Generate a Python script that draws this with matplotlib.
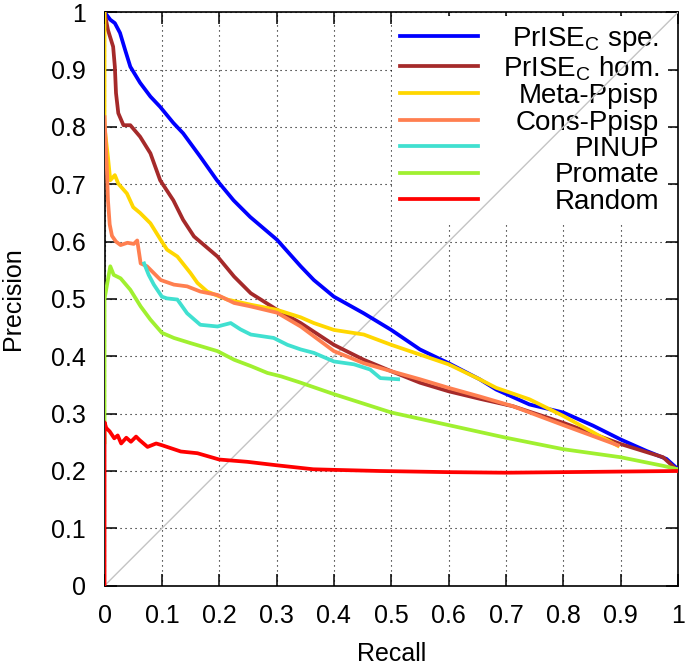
import matplotlib
matplotlib.use("Agg")
import matplotlib.pyplot as plt

plt.rcParams["font.family"] = ["Liberation Sans", "DejaVu Sans"]
plt.rcParams["mathtext.fontset"] = "custom"
plt.rcParams["mathtext.rm"] = "Liberation Sans"
plt.rcParams["mathtext.it"] = "Liberation Sans:italic"

# precision / recall curves
spe_x = [0, 0.004, 0.01, 0.018, 0.027, 0.036, 0.045, 0.062, 0.08, 0.097, 0.12, 0.137,
         0.167, 0.196, 0.225, 0.254, 0.301, 0.342, 0.365, 0.4, 0.452, 0.5, 0.55, 0.6,
         0.654, 0.683, 0.741, 0.8, 0.852, 0.9, 0.945, 0.98, 1.0]
spe_y = [1.0, 0.995, 0.987, 0.981, 0.964, 0.934, 0.905, 0.877, 0.853, 0.835, 0.807, 0.789,
         0.748, 0.707, 0.672, 0.643, 0.603, 0.557, 0.533, 0.504, 0.475, 0.446, 0.412, 0.388,
         0.36, 0.342, 0.316, 0.302, 0.279, 0.255, 0.235, 0.221, 0.203]

hom_x = [0, 0.006, 0.015, 0.018, 0.02, 0.024, 0.033, 0.045, 0.062, 0.08, 0.097, 0.12,
         0.137, 0.156, 0.197, 0.226, 0.255, 0.301, 0.342, 0.4, 0.452, 0.5, 0.55, 0.6,
         0.654, 0.712, 0.8, 0.9, 0.974, 1.0]
hom_y = [1.0, 0.969, 0.94, 0.905, 0.859, 0.824, 0.803, 0.803, 0.783, 0.754, 0.707, 0.672,
         0.638, 0.609, 0.574, 0.539, 0.51, 0.481, 0.458, 0.42, 0.394, 0.374, 0.354, 0.339,
         0.326, 0.313, 0.284, 0.247, 0.224, 0.2]

meta_x = [0, 0, 0.006, 0.01, 0.018, 0.024, 0.039, 0.05, 0.062, 0.08, 0.098, 0.109, 0.127,
          0.15, 0.162, 0.179, 0.214, 0.255, 0.301, 0.342, 0.365, 0.4, 0.452, 0.5, 0.55,
          0.6, 0.654, 0.683, 0.741, 0.8, 0.858, 0.895]
meta_y = [1.0, 0.8, 0.747, 0.707, 0.716, 0.701, 0.684, 0.66, 0.65, 0.632, 0.603, 0.586, 0.574,
          0.545, 0.528, 0.513, 0.499, 0.49, 0.481, 0.468, 0.458, 0.446, 0.438, 0.42, 0.403,
          0.386, 0.36, 0.345, 0.325, 0.296, 0.264, 0.244]

cons_x = [0, 0.004, 0.006, 0.009, 0.013, 0.02, 0.028, 0.04, 0.051, 0.057, 0.063, 0.074,
          0.098, 0.121, 0.144, 0.167, 0.197, 0.226, 0.255, 0.301, 0.342, 0.4, 0.452, 0.5,
          0.55, 0.6, 0.654, 0.712, 0.8, 0.895]
cons_y = [0.817, 0.73, 0.672, 0.63, 0.61, 0.6, 0.594, 0.598, 0.596, 0.602, 0.562, 0.557,
          0.533, 0.525, 0.522, 0.513, 0.507, 0.493, 0.487, 0.476, 0.452, 0.409, 0.388, 0.374,
          0.36, 0.345, 0.33, 0.313, 0.28, 0.245]

pinup_x = [0.069, 0.077, 0.086, 0.1, 0.109, 0.127, 0.144, 0.167, 0.197, 0.22, 0.237, 0.255,
           0.295, 0.319, 0.342, 0.365, 0.4, 0.435, 0.463, 0.481, 0.512]
pinup_y = [0.562, 0.542, 0.525, 0.504, 0.501, 0.499, 0.475, 0.455, 0.452, 0.458, 0.447, 0.438,
           0.432, 0.42, 0.412, 0.406, 0.391, 0.386, 0.377, 0.362, 0.36]

promate_x = [0, 0, 0.01, 0.016, 0.028, 0.045, 0.063, 0.08, 0.1, 0.121, 0.15, 0.197, 0.226,
             0.255, 0.284, 0.308, 0.342, 0.4, 0.5, 0.6, 0.7, 0.8, 0.9, 0.974, 1.0]
promate_y = [0.25, 0.5, 0.557, 0.542, 0.536, 0.516, 0.487, 0.464, 0.441, 0.432, 0.423, 0.409, 0.394,
             0.383, 0.371, 0.365, 0.354, 0.334, 0.302, 0.28, 0.258, 0.238, 0.224, 0.209, 0.203]

random_x = [0, 0, 0.003, 0.009, 0.017, 0.023, 0.029, 0.038, 0.046, 0.055, 0.061, 0.075, 0.09,
            0.1, 0.133, 0.162, 0.2, 0.249, 0.3, 0.364, 0.4, 0.48, 0.6, 0.7, 0.8, 0.9, 1.0]
random_y = [0, 0.285, 0.275, 0.269, 0.257, 0.262, 0.248, 0.258, 0.251, 0.26, 0.254, 0.242, 0.248,
            0.245, 0.234, 0.231, 0.22, 0.216, 0.21, 0.203, 0.202, 0.2, 0.198, 0.197, 0.198, 0.199, 0.2]

labels = [r"PrISE$_\mathrm{C}$ spe.", r"PrISE$_\mathrm{C}$ hom.", "Meta-Ppisp", "Cons-Ppisp",
          "PINUP", "Promate", "Random"]
colors = ["#0000ff", "#a52a2a", "#ffd700", "#ff7f50", "#40e0d0", "#a0f030", "#ff0000"]
series = [(spe_x, spe_y), (hom_x, hom_y), (meta_x, meta_y), (cons_x, cons_y),
          (pinup_x, pinup_y), (promate_x, promate_y), (random_x, random_y)]
ticks = [0, 0.1, 0.2, 0.3, 0.4, 0.5, 0.6, 0.7, 0.8, 0.9, 1]
tick_labels = ["0", "0.1", "0.2", "0.3", "0.4", "0.5", "0.6", "0.7", "0.8", "0.9", "1"]

fig = plt.figure(figsize=(6.85, 6.66), dpi=100)
ax = fig.add_axes([0.1526, 0.1206, 0.8372, 0.861])

ax.plot([0, 1], [0, 1], color="#c4c4c4", lw=1.0, zorder=6)
for (xs, ys), lab, col in zip(series, labels, colors):
    ax.plot(xs, ys, color=col, lw=2.7, label=lab, zorder=7)

ax.set_xlim(0, 1)
ax.set_ylim(0, 1)
ax.set_xticks(ticks)
ax.set_xticklabels(tick_labels)
ax.set_yticks(ticks)
ax.set_yticklabels(tick_labels)
ax.tick_params(direction="in", length=8.5, width=1.1, pad=13.5, labelsize=18,
               top=True, right=True)
for s in ax.spines.values():
    s.set_linewidth(1.2)
ax.grid(True, color="black", linestyle=(0, (1, 3.5)), linewidth=0.8)

ax.set_xlabel("Recall", fontsize=18, labelpad=10)
ax.set_ylabel("Precision", fontsize=18, labelpad=19)

leg = ax.legend(loc="upper right", bbox_to_anchor=(0.9817, 0.9927), frameon=True,
                fancybox=False, framealpha=1, facecolor="white", edgecolor="none",
                fontsize=20, handlelength=2.8, handletextpad=0.9, labelspacing=0.015,
                borderpad=0.3, borderaxespad=0)
leg.set_zorder(5)

# right-align legend labels
fig.canvas.draw()
r = fig.canvas.get_renderer()
texts = leg.get_texts()
widths = [t.get_window_extent(r).width for t in texts]
mw = max(widths)
for t, w in zip(texts, widths):
    t.set_position((mw - w, 0))

fig.savefig("out.png", dpi=100)
